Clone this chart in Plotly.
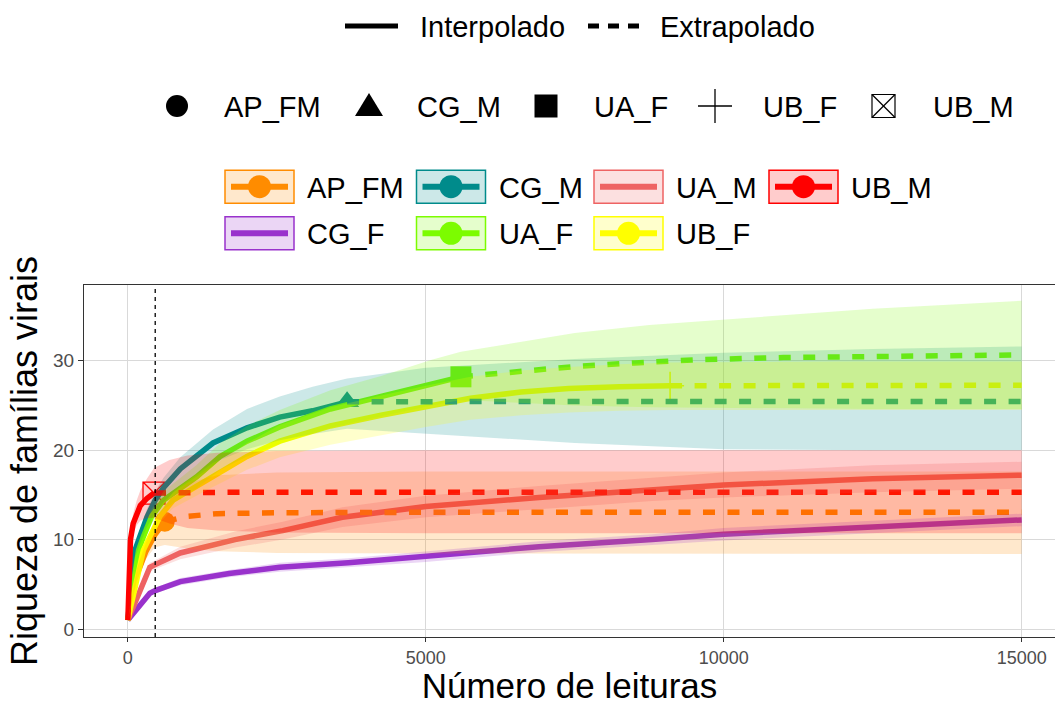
import plotly.graph_objects as go

# ------------------------------------------------------------------ data
# observed sample (reads, richness)
ap_fm_obs_n, ap_fm_obs_s = 620, 12.0
cg_m_obs_n, cg_m_obs_s = 3680, 25.4
ua_f_obs_n, ua_f_obs_s = 5590, 28.2
ub_f_obs_n, ub_f_obs_s = 9100, 27.2
ub_m_obs_n, ub_m_obs_s = 440, 15.2
vline_n = 460

# AP_FM
ap_fm_int_n = [1, 150, 300, 450, 620]
ap_fm_int_s = [1, 6.0, 8.6, 10.5, 12.0]
ap_fm_ext_n = [620, 800, 1000, 1500, 2500, 5000, 10000, 15000]
ap_fm_ext_s = [12.0, 12.35, 12.6, 12.9, 13.0, 13.05, 13.05, 13.05]
ap_fm_ci_n = [1, 150, 300, 450, 620, 800, 1000, 1500, 2500, 5000, 10000, 15000]
ap_fm_ci_lo = [1, 5.3, 7.8, 9.1, 9.4, 9.2, 9.0, 8.7, 8.5, 8.45, 8.4, 8.4]
ap_fm_ci_hi = [1, 6.7, 9.6, 11.9, 13.8, 15.3, 16.3, 17.2, 17.5, 17.6, 17.6, 17.6]

# CG_F
cg_f_int_n = [1, 370, 460, 880, 1700, 2550, 3700, 5000, 6900, 8800, 10000, 12500, 15000]
cg_f_int_s = [1, 4.0, 4.3, 5.3, 6.2, 6.9, 7.4, 8.1, 9.2, 10.0, 10.6, 11.4, 12.2]
cg_f_ci_lo = [1, 3.7, 4.0, 4.9, 5.8, 6.4, 6.9, 7.5, 8.6, 9.4, 9.9, 10.7, 11.5]
cg_f_ci_hi = [1, 4.3, 4.6, 5.7, 6.6, 7.4, 7.9, 8.7, 9.8, 10.6, 11.3, 12.1, 12.9]

# CG_M
cg_m_int_n = [1, 120, 200, 320, 460, 600, 880, 1430, 2000, 2550, 3100, 3680]
cg_m_int_s = [1, 8.8, 10.3, 12.5, 14.4, 15.8, 17.9, 20.8, 22.5, 23.7, 24.4, 25.4]
cg_m_ext_n = [3680, 5000, 7500, 10000, 15000]
cg_m_ext_s = [25.4, 25.45, 25.45, 25.45, 25.45]
cg_m_ci_n = [1, 120, 200, 320, 460, 600, 880, 1430, 2000, 2550, 3100, 3680, 5000, 7500, 10000, 12500, 15000]
cg_m_ci_lo = [1, 8.0, 9.4, 11.4, 13.0, 14.2, 16.0, 18.6, 20.1, 21.1, 21.8, 22.4, 21.9, 20.8, 20.1, 20.0, 20.0]
cg_m_ci_hi = [1, 9.4, 11.0, 13.4, 15.4, 16.9, 19.2, 22.3, 24.6, 26.0, 27.1, 28.0, 29.2, 30.2, 30.9, 31.3, 31.6]

# UA_F
ua_f_int_n = [1, 180, 260, 400, 600, 1150, 1550, 2000, 2550, 3400, 4250, 5100, 5590]
ua_f_int_s = [1, 8.8, 10.3, 12.6, 14.4, 17.0, 19.3, 21.0, 22.6, 24.6, 26.0, 27.4, 28.2]
ua_f_ext_n = [5590, 6500, 7500, 8500, 9500, 11000, 12500, 15000]
ua_f_ext_s = [28.2, 28.8, 29.35, 29.75, 30.1, 30.35, 30.5, 30.65]
ua_f_ci_n = [1, 180, 260, 400, 600, 1150, 1550, 2000, 2550, 3400, 4250, 5100, 5590, 6500, 7500, 8750, 10000, 12500, 15000]
ua_f_ci_lo = [1, 8.3, 9.7, 11.8, 13.4, 15.7, 17.8, 19.3, 20.7, 22.5, 23.8, 25.0, 25.6, 25.3, 25.0, 24.8, 24.7, 24.6, 24.6]
ua_f_ci_hi = [1, 9.3, 10.9, 13.4, 15.4, 18.3, 20.8, 22.7, 24.5, 26.7, 28.3, 30.1, 31.0, 32.0, 33.1, 34.0, 34.6, 35.8, 36.7]

# UA_M
ua_m_int_n = [1, 370, 460, 880, 1800, 2600, 3600, 5000, 6900, 8800, 10000, 12500, 15000]
ua_m_int_s = [1, 6.9, 7.2, 8.5, 10.0, 11.0, 12.5, 13.7, 14.7, 15.6, 16.1, 16.8, 17.2]
ua_m_ci_lo = [1, 6.4, 6.7, 7.8, 9.1, 10.0, 11.4, 12.5, 13.4, 14.3, 14.7, 15.3, 15.7]
ua_m_ci_hi = [1, 7.4, 7.7, 9.2, 10.9, 12.0, 13.6, 14.9, 16.0, 16.9, 17.5, 18.3, 18.7]

# UB_F
ub_f_int_n = [1, 260, 370, 540, 760, 1380, 2000, 2550, 3400, 4250, 5000, 5750, 6600, 7400, 8250, 9100]
ub_f_int_s = [1, 8.8, 10.3, 12.6, 14.4, 16.9, 19.3, 21.0, 22.7, 23.9, 24.9, 25.8, 26.5, 26.9, 27.1, 27.2]
ub_f_ext_n = [9100, 10000, 12000, 15000]
ub_f_ext_s = [27.2, 27.22, 27.25, 27.25]
ub_f_ci_n = [1, 260, 370, 540, 760, 1380, 2000, 2550, 3400, 4250, 5000, 5750, 6600, 7400, 8250, 9100, 12000, 15000]
ub_f_ci_lo = [1, 8.4, 9.8, 11.9, 13.5, 15.7, 17.8, 19.2, 20.6, 21.7, 22.6, 23.4, 23.9, 24.2, 24.4, 24.5, 24.5, 24.5]
ub_f_ci_hi = [1, 9.2, 10.8, 13.3, 15.3, 18.1, 20.8, 22.8, 24.8, 26.1, 27.2, 28.2, 28.9, 29.3, 29.6, 29.8, 29.9, 29.9]

# UB_M
ub_m_int_n = [1, 20, 45, 90, 150, 210, 320, 440]
ub_m_int_s = [1, 8.0, 10.0, 11.8, 13.0, 13.8, 14.6, 15.2]
ub_m_ext_n = [440, 1000, 2000, 5000, 15000]
ub_m_ext_s = [15.2, 15.25, 15.3, 15.3, 15.3]
ub_m_ci_n = [1, 20, 45, 90, 150, 210, 320, 440, 700, 1000, 1500, 2500, 5000, 15000]
ub_m_ci_lo = [1, 7.2, 9.1, 10.7, 11.6, 12.1, 12.4, 12.4, 11.8, 11.3, 11.0, 10.8, 10.7, 10.7]
ub_m_ci_hi = [1, 8.8, 10.9, 12.9, 14.4, 15.5, 16.8, 18.0, 18.9, 19.4, 19.7, 19.9, 20.0, 20.0]

x_ticks = [0, 5000, 10000, 15000]
y_ticks = [0, 10, 20, 30]

colors = {
    "AP_FM": (255, 140, 0),
    "CG_F": (153, 50, 204),
    "CG_M": (0, 139, 139),
    "UA_F": (124, 252, 0),
    "UA_M": (238, 99, 99),
    "UB_F": (255, 255, 0),
    "UB_M": (255, 0, 0),
}

def rgb(name, a=None):
    r, g, b = colors[name]
    if a is None:
        return f"rgb({r},{g},{b})"
    return f"rgba({r},{g},{b},{a})"

FONT = "Liberation Sans, Arial, sans-serif"
W, H = 1055, 705
ML, MR, MT, MB = 84, 0, 285, 68
PW, PH = W - ML - MR, H - MT - MB

def px(x):
    return (x - ML) / PW

def py(y):
    return (H - MB - y) / PH

fig = go.Figure()

# ---- observed points (drawn first, as in ggiNEXT)
points = [
    ("AP_FM", ap_fm_obs_n, ap_fm_obs_s, dict(symbol="circle", size=20)),
    ("CG_M", cg_m_obs_n, cg_m_obs_s, dict(symbol="triangle-up", size=21)),
    ("UA_F", ua_f_obs_n, ua_f_obs_s, dict(symbol="square", size=21)),
    ("UB_F", ub_f_obs_n, ub_f_obs_s, dict(symbol="cross-thin", size=20,
                                          line=dict(width=1.6))),
    ("UB_M", ub_m_obs_n, ub_m_obs_s, dict(symbol="square-x-open", size=22,
                                          line=dict(width=1.3))),
]
for name, n, s, mk in points:
    mk = dict(mk)
    mk["color"] = rgb(name)
    if "line" in mk:
        mk["line"] = dict(mk["line"], color=rgb(name))
    fig.add_trace(go.Scatter(x=[n], y=[s], mode="markers", marker=mk,
                             showlegend=False, hoverinfo="skip"))

# ---- interpolated (solid) and extrapolated (dashed) lines
LW = 5.5
interp = [
    ("AP_FM", ap_fm_int_n, ap_fm_int_s),
    ("CG_F", cg_f_int_n, cg_f_int_s),
    ("CG_M", cg_m_int_n, cg_m_int_s),
    ("UA_F", ua_f_int_n, ua_f_int_s),
    ("UA_M", ua_m_int_n, ua_m_int_s),
    ("UB_F", ub_f_int_n, ub_f_int_s),
    ("UB_M", ub_m_int_n, ub_m_int_s),
]
for name, n, s in interp:
    fig.add_trace(go.Scatter(x=n, y=s, mode="lines",
                             line=dict(color=rgb(name), width=LW),
                             showlegend=False, hoverinfo="skip"))

extrap = [
    ("AP_FM", ap_fm_ext_n, ap_fm_ext_s),
    ("CG_M", cg_m_ext_n, cg_m_ext_s),
    ("UA_F", ua_f_ext_n, ua_f_ext_s),
    ("UB_F", ub_f_ext_n, ub_f_ext_s),
    ("UB_M", ub_m_ext_n, ub_m_ext_s),
]
for name, n, s in extrap:
    fig.add_trace(go.Scatter(x=n, y=s, mode="lines",
                             line=dict(color=rgb(name), width=LW, dash="12px,12.5px"),
                             showlegend=False, hoverinfo="skip"))

# ---- confidence ribbons (drawn last, alpha 0.2)
ribbons = [
    ("AP_FM", ap_fm_ci_n, ap_fm_ci_lo, ap_fm_ci_hi),
    ("CG_F", cg_f_int_n, cg_f_ci_lo, cg_f_ci_hi),
    ("CG_M", cg_m_ci_n, cg_m_ci_lo, cg_m_ci_hi),
    ("UA_F", ua_f_ci_n, ua_f_ci_lo, ua_f_ci_hi),
    ("UA_M", ua_m_int_n, ua_m_ci_lo, ua_m_ci_hi),
    ("UB_F", ub_f_ci_n, ub_f_ci_lo, ub_f_ci_hi),
    ("UB_M", ub_m_ci_n, ub_m_ci_lo, ub_m_ci_hi),
]
for name, n, lo, hi in ribbons:
    fig.add_trace(go.Scatter(x=list(n) + list(n)[::-1], y=list(hi) + list(lo)[::-1],
                             mode="lines", fill="toself", fillcolor=rgb(name, 0.2),
                             line=dict(width=0, color=rgb(name, 0)),
                             showlegend=False, hoverinfo="skip"))

shapes = []
annotations = []

# vertical dashed reference line
shapes.append(dict(type="line", xref="x", yref="paper", x0=vline_n, x1=vline_n,
                   y0=0, y1=1, line=dict(color="black", width=1.3, dash="4px,4px"),
                   layer="above"))

def text(x, y, s, size=29):
    annotations.append(dict(x=px(x), y=py(y), xref="paper", yref="paper",
                            text=s, showarrow=False, xanchor="left", yanchor="middle",
                            font=dict(family=FONT, size=size, color="black")))

# ---- legend 1: line type
shapes.append(dict(type="line", xref="paper", yref="paper", x0=px(345), x1=px(398),
                   y0=py(26), y1=py(26), line=dict(color="black", width=5)))
text(418, 27, "Interpolado")
shapes.append(dict(type="line", xref="paper", yref="paper", x0=px(588), x1=px(641),
                   y0=py(26), y1=py(26), line=dict(color="black", width=5, dash="11px,9px")))
text(658, 27, "Extrapolado")

# ---- legend 2: shapes
ly = 106
shapes.append(dict(type="circle", xref="paper", yref="paper", x0=px(166), x1=px(188),
                   y0=py(ly - 11), y1=py(ly + 11), fillcolor="black", line=dict(width=0)))
text(222, ly + 1, "AP_FM")
tri = f"M {px(355)},{py(116)} L {px(383)},{py(116)} L {px(369)},{py(93)} Z"
shapes.append(dict(type="path", xref="paper", yref="paper", path=tri,
                   fillcolor="black", line=dict(width=0)))
text(415, ly + 1, "CG_M")
shapes.append(dict(type="rect", xref="paper", yref="paper", x0=px(534.5), x1=px(557.5),
                   y0=py(ly - 11.5), y1=py(ly + 11.5), fillcolor="black", line=dict(width=0)))
text(592, ly + 1, "UA_F")
shapes.append(dict(type="line", xref="paper", yref="paper", x0=px(698), x1=px(732),
                   y0=py(ly), y1=py(ly), line=dict(color="black", width=1.3)))
shapes.append(dict(type="line", xref="paper", yref="paper", x0=px(715), x1=px(715),
                   y0=py(ly - 17), y1=py(ly + 17), line=dict(color="black", width=1.3)))
text(761, ly + 1, "UB_F")
shapes.append(dict(type="rect", xref="paper", yref="paper", x0=px(872), x1=px(895),
                   y0=py(ly - 11.5), y1=py(ly + 11.5), line=dict(color="black", width=1.2)))
shapes.append(dict(type="line", xref="paper", yref="paper", x0=px(872), x1=px(895),
                   y0=py(ly - 11.5), y1=py(ly + 11.5), line=dict(color="black", width=1.2)))
shapes.append(dict(type="line", xref="paper", yref="paper", x0=px(872), x1=px(895),
                   y0=py(ly + 11.5), y1=py(ly - 11.5), line=dict(color="black", width=1.2)))
text(931, ly + 1, "UB_M")

# ---- legend 3: colour / fill
legend3 = [
    ("AP_FM", 225, 186.7, True), ("CG_M", 416.5, 186.7, True),
    ("UA_M", 594, 186.7, False), ("UB_M", 769, 186.7, True),
    ("CG_F", 225, 233.3, False), ("UA_F", 416.5, 233.3, True),
    ("UB_F", 594, 233.3, True),
]
for name, bx, cy, has_pt in legend3:
    shapes.append(dict(type="rect", xref="paper", yref="paper", x0=px(bx), x1=px(bx + 69),
                       y0=py(cy - 16.5), y1=py(cy + 16.5), fillcolor=rgb(name, 0.2),
                       line=dict(color=rgb(name), width=1.5)))
    shapes.append(dict(type="line", xref="paper", yref="paper", x0=px(bx + 6), x1=px(bx + 63),
                       y0=py(cy), y1=py(cy), line=dict(color=rgb(name), width=6)))
    if has_pt:
        shapes.append(dict(type="circle", xref="paper", yref="paper",
                           x0=px(bx + 34.5 - 11.5), x1=px(bx + 34.5 + 11.5),
                           y0=py(cy - 11.5), y1=py(cy + 11.5), fillcolor=rgb(name),
                           line=dict(width=0)))
    text(bx + 80, cy + 1, name)

fig.update_layout(
    width=W, height=H,
    margin=dict(l=ML, r=MR, t=MT, b=MB, pad=0),
    paper_bgcolor="white", plot_bgcolor="white",
    font=dict(family=FONT, color="black"),
    showlegend=False,
    shapes=shapes, annotations=annotations,
    xaxis=dict(range=[-735, 15559], tickvals=x_ticks, ticktext=[str(v) for v in x_ticks],
               showgrid=True, gridcolor="#D9D9D9", gridwidth=1.2, zeroline=False,
               showline=True, linecolor="#333333", linewidth=1.3, mirror=True,
               ticks="outside", ticklen=4, tickwidth=1.2, tickcolor="#333333",
               tickfont=dict(family=FONT, size=18, color="#4D4D4D"),
               title=dict(text="Número de leituras", font=dict(family=FONT, size=35, color="black"),
                          standoff=7)),
    yaxis=dict(range=[-0.895, 38.466], tickvals=y_ticks, ticktext=[str(v) for v in y_ticks],
               showgrid=True, gridcolor="#D9D9D9", gridwidth=1.2, zeroline=False,
               showline=True, linecolor="#333333", linewidth=1.3, mirror=False,
               ticks="outside", ticklen=5, tickwidth=1.2, tickcolor="#333333",
               tickfont=dict(family=FONT, size=19, color="#4D4D4D"),
               title=dict(text="Riqueza de famílias virais", font=dict(family=FONT, size=36, color="black"),
                          standoff=4)),
)

fig.write_html("out.html")
